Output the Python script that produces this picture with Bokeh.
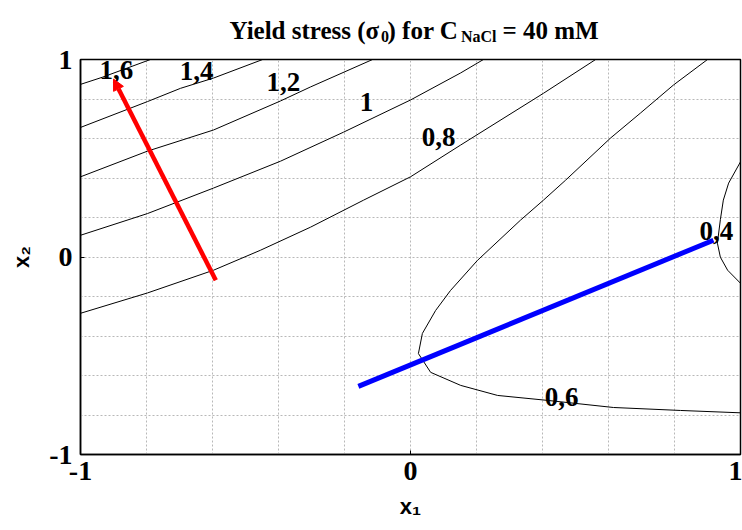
from bokeh.embed import file_html
from bokeh.models import Arrow, ColumnDataSource, FixedTicker, Label, NormalHead, Range1d
from bokeh.plotting import figure
from bokeh.resources import INLINE

# ---- iso-lines of the yield-stress response surface (x1, x2 in coded units) ----
level_labels = ["1,6", "1,4", "1,2", "1", "0,8", "0,6", "0,4"]

iso_16_x = [-1.0, -0.934, -0.788]
iso_16_y = [0.874, 0.910, 1.0]

iso_14_x = [-1.0, -0.797, -0.697, -0.597, -0.448]
iso_14_y = [0.656, 0.787, 0.854, 0.906, 1.0]

iso_12_x = [-1.0, -0.797, -0.597, -0.394, -0.303, -0.115]
iso_12_y = [0.406, 0.536, 0.643, 0.790, 0.861, 1.0]

iso_10_x = [-1.0, -0.797, -0.597, -0.394, -0.203, 0.0, 0.152, 0.221]
iso_10_y = [0.110, 0.220, 0.349, 0.485, 0.632, 0.795, 0.932, 1.0]

iso_08_x = [-1.0, -0.797, -0.597, -0.455, -0.303, -0.142, 0.0, 0.152, 0.403, 0.561]
iso_08_y = [-0.285, -0.182, -0.067, 0.034, 0.151, 0.288, 0.406, 0.567, 0.829, 1.0]

iso_06_x = [0.900, 0.797, 0.697, 0.606, 0.470, 0.403, 0.333, 0.203, 0.121, 0.076,
            0.036, 0.024, 0.061, 0.152, 0.264, 0.415, 0.615, 0.818, 1.0]
iso_06_y = [1.0, 0.871, 0.729, 0.602, 0.389, 0.288, 0.186, -0.017, -0.170, -0.271,
            -0.387, -0.489, -0.584, -0.650, -0.701, -0.726, -0.762, -0.777, -0.789]

iso_04_x = [1.0, 0.964, 0.948, 0.939, 0.930, 0.939, 0.961, 1.0]
iso_04_y = [0.482, 0.374, 0.288, 0.189, 0.070, -0.001, -0.067, -0.133]

# level-label anchor points (coded units)
label_x = [-0.891, -0.648, -0.385, -0.133, 0.085, 0.458, 0.927]
label_y = [0.947, 0.942, 0.886, 0.785, 0.607, -0.711, 0.131]

# steepest-ascent direction (red) and the path towards the minimum (blue)
red_start = (-0.59, -0.118)
red_end = (-0.90, 0.901)
blue_start = (-0.158, -0.655)
blue_end = (0.918, 0.085)

axis_ticks = [-1, 0, 1]
grid_ticks = [-0.8, -0.6, -0.4, -0.2, 0.0, 0.2, 0.4, 0.6, 0.8]

# ---- figure ----
FL, FR, FT, FB = 80, 740, 59.5, 454  # frame edges on the canvas
p = figure(width=742, height=530,
           x_range=Range1d(-1, 1), y_range=Range1d(-1, 1),
           output_backend="svg", toolbar_location=None,
           min_border_left=FL, min_border_right=742 - FR,
           min_border_top=int(FT), min_border_bottom=530 - FB)
p.title.visible = False
p.background_fill_color = "white"
p.border_fill_color = "white"
p.outline_line_color = "black"
p.outline_line_width = 1.5


def cx(px):
    """canvas x pixel -> coded x1"""
    return (px - FL) / (FR - FL) * 2 - 1


def cy(py):
    """canvas y pixel -> coded x2"""
    return 1 - (py - FT) / (FB - FT) * 2


for ax in (p.xaxis[0], p.yaxis[0]):
    ax.ticker = FixedTicker(ticks=axis_ticks)
    ax.minor_tick_line_color = None
    ax.major_tick_in = 4
    ax.major_tick_out = 0
    ax.major_tick_line_color = "black"
    ax.axis_line_color = "black"
    ax.axis_line_width = 1.5
    ax.major_label_text_font = "Liberation Serif"
    ax.major_label_text_font_style = "bold"
    ax.major_label_text_font_size = "28px"
    ax.major_label_text_color = "black"
    ax.major_label_overrides = {-1: "-1", 0: "0", 1: "1"}
    ax.axis_label_text_font = "Liberation Sans"
    ax.axis_label_text_font_style = "bold"
    ax.axis_label_text_font_size = "22px"
    ax.axis_label_text_color = "black"
p.xaxis.major_label_standoff = 7
p.yaxis.major_label_standoff = 8
p.xaxis.axis_label = "x\u2081"
p.yaxis.axis_label = "x\u2082"
p.xaxis.axis_label_standoff = 11
p.yaxis.axis_label_standoff = 12

p.xgrid.ticker = FixedTicker(ticks=grid_ticks)
p.ygrid.ticker = FixedTicker(ticks=grid_ticks)
for g in (p.xgrid[0], p.ygrid[0]):
    g.grid_line_color = "#b8b8b8"
    g.grid_line_dash = "2 2"
    g.grid_line_width = 1

# iso-lines
for xs, ys in [(iso_16_x, iso_16_y), (iso_14_x, iso_14_y), (iso_12_x, iso_12_y),
               (iso_10_x, iso_10_y), (iso_08_x, iso_08_y), (iso_06_x, iso_06_y),
               (iso_04_x, iso_04_y)]:
    p.line(xs, ys, line_color="black", line_width=1)

# level labels
for txt, lx, ly in zip(level_labels, label_x, label_y):
    p.add_layout(Label(x=lx, y=ly, text=txt, text_align="center", text_baseline="middle",
                       text_font="Liberation Serif", text_font_style="bold",
                       text_font_size="27px", text_color="black"))

# direction lines
p.add_layout(Arrow(end=NormalHead(size=11, fill_color="#ff0000", line_color="#ff0000", line_width=1),
                   x_start=red_start[0], y_start=red_start[1],
                   x_end=red_end[0], y_end=red_end[1],
                   line_color="#ff0000", line_width=4.5))
seg = ColumnDataSource(dict(x0=[blue_start[0]], y0=[blue_start[1]],
                            x1=[blue_end[0]], y1=[blue_end[1]]))
p.segment(x0="x0", y0="y0", x1="x1", y1="y1", source=seg,
          line_color="#0000ff", line_width=5)

# title "Yield stress (σ0) for C_NaCl = 40 mM": main line with fixed-width gaps,
# the two subscripts set in a smaller, lowered line that fills those gaps
TITLE_LEFT = 229
title_main = "Yield stress (\u03c3\u2004) for C\u2003\u2004\u2009 = 40 mM"
title_subs = "0\u2003\u2003\u2003\u2003\u2004\u2006NaCl"
p.add_layout(Label(x=cx(TITLE_LEFT), y=cy(31), text=title_main, text_align="left",
                   text_baseline="alphabetic", text_font="Liberation Serif",
                   text_font_style="bold", text_font_size="25px", text_color="black"), "above")
p.add_layout(Label(x=cx(TITLE_LEFT + 151.5), y=cy(37), text=title_subs, text_align="left",
                   text_baseline="alphabetic", text_font="Liberation Serif",
                   text_font_style="bold", text_font_size="16px", text_color="black"), "above")

open("out.html", "w").write(file_html(p, INLINE))
